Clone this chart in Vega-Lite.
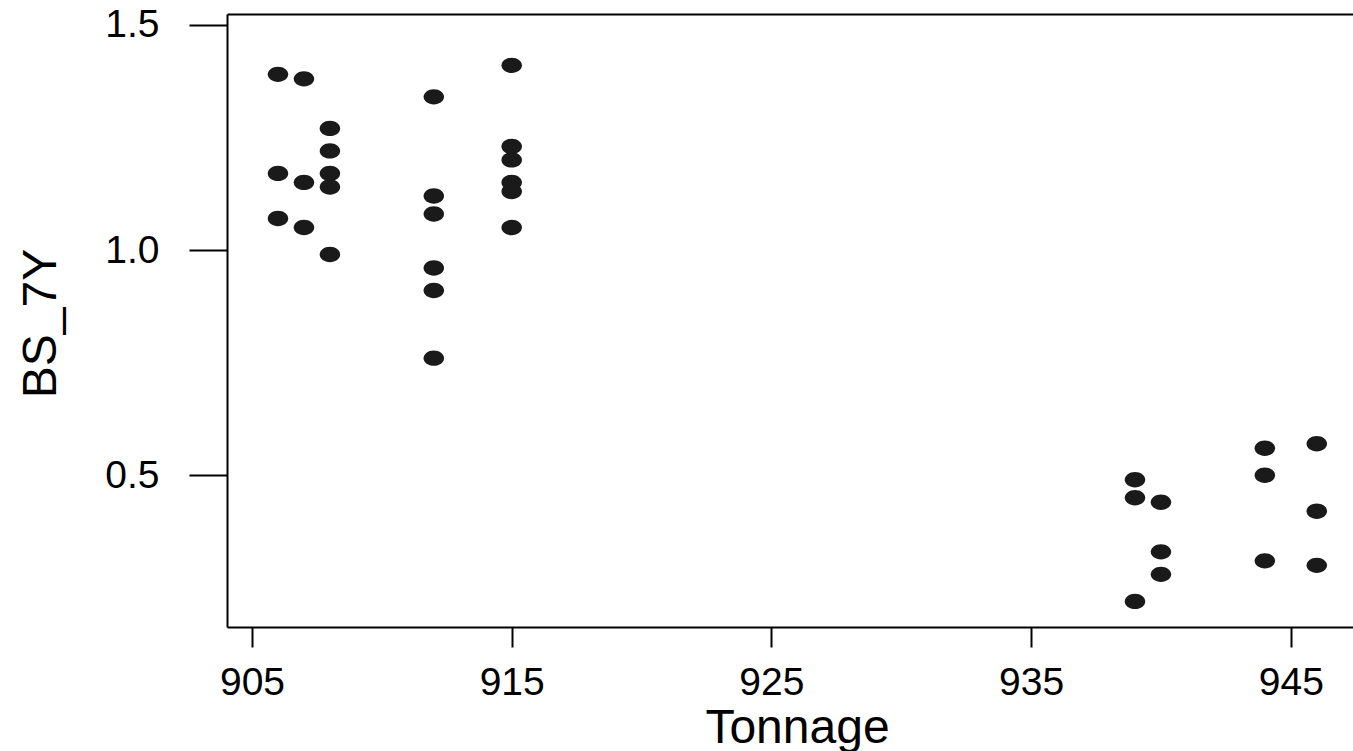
{
  "$schema": "https://vega.github.io/schema/vega-lite/v6.json",
  "width": 1126,
  "height": 613,
  "autosize": {"type": "none"},
  "padding": {"left": 227, "top": 14, "right": 0, "bottom": 124},
  "background": "white",
  "config": {
    "view": {"stroke": null},
    "axis": {
      "grid": false,
      "domainColor": "black",
      "domainWidth": 2,
      "tickColor": "black",
      "tickWidth": 2,
      "labelColor": "black",
      "labelFont": "Liberation Sans",
      "labelFontSize": 39,
      "titleFont": "Liberation Sans",
      "titleFontSize": 48,
      "titleFontWeight": "normal",
      "titleColor": "black",
      "labelFlush": false,
      "labelOverlap": false
    }
  },
  "data": {
    "values": [
      {"Tonnage": 906, "BS_7Y": 1.39},
      {"Tonnage": 906, "BS_7Y": 1.17},
      {"Tonnage": 906, "BS_7Y": 1.07},
      {"Tonnage": 907, "BS_7Y": 1.38},
      {"Tonnage": 907, "BS_7Y": 1.15},
      {"Tonnage": 907, "BS_7Y": 1.05},
      {"Tonnage": 908, "BS_7Y": 1.27},
      {"Tonnage": 908, "BS_7Y": 1.22},
      {"Tonnage": 908, "BS_7Y": 1.17},
      {"Tonnage": 908, "BS_7Y": 1.14},
      {"Tonnage": 908, "BS_7Y": 0.99},
      {"Tonnage": 912, "BS_7Y": 1.34},
      {"Tonnage": 912, "BS_7Y": 1.12},
      {"Tonnage": 912, "BS_7Y": 1.08},
      {"Tonnage": 912, "BS_7Y": 0.96},
      {"Tonnage": 912, "BS_7Y": 0.91},
      {"Tonnage": 912, "BS_7Y": 0.76},
      {"Tonnage": 915, "BS_7Y": 1.41},
      {"Tonnage": 915, "BS_7Y": 1.23},
      {"Tonnage": 915, "BS_7Y": 1.20},
      {"Tonnage": 915, "BS_7Y": 1.15},
      {"Tonnage": 915, "BS_7Y": 1.13},
      {"Tonnage": 915, "BS_7Y": 1.05},
      {"Tonnage": 939, "BS_7Y": 0.49},
      {"Tonnage": 939, "BS_7Y": 0.45},
      {"Tonnage": 939, "BS_7Y": 0.22},
      {"Tonnage": 940, "BS_7Y": 0.44},
      {"Tonnage": 940, "BS_7Y": 0.33},
      {"Tonnage": 940, "BS_7Y": 0.28},
      {"Tonnage": 944, "BS_7Y": 0.56},
      {"Tonnage": 944, "BS_7Y": 0.50},
      {"Tonnage": 944, "BS_7Y": 0.31},
      {"Tonnage": 946, "BS_7Y": 0.57},
      {"Tonnage": 946, "BS_7Y": 0.42},
      {"Tonnage": 946, "BS_7Y": 0.30}
    ]
  },
  "layer": [
    {
      "mark": {
        "type": "point",
        "shape": "M-1,0A1,0.75 0 1,0 1,0A1,0.75 0 1,0 -1,0Z",
        "filled": true,
        "size": 420,
        "color": "#1a1a1a",
        "opacity": 1,
        "strokeWidth": 0
      },
      "encoding": {
        "x": {
          "field": "Tonnage",
          "type": "quantitative",
          "scale": {"domain": [904.037, 947.395], "nice": false, "zero": false},
          "axis": {
            "orient": "bottom",
            "values": [905, 915, 925, 935, 945],
            "format": "d",
            "tickSize": 20,
            "labelPadding": 16,
            "title": "Tonnage",
            "titleX": 570,
            "titleY": 115,
            "titleAlign": "center",
            "titleBaseline": "alphabetic"
          }
        },
        "y": {
          "field": "BS_7Y",
          "type": "quantitative",
          "scale": {"domain": [0.16315, 1.5239], "nice": false, "zero": false},
          "axis": {
            "values": [0.5, 1.0, 1.5],
            "format": ".1f",
            "tickSize": 38,
            "labelPadding": 30,
            "title": "BS_7Y",
            "titleAngle": 270,
            "titleX": -172,
            "titleY": 309,
            "titleAlign": "center",
            "titleBaseline": "alphabetic"
          }
        }
      }
    },
    {
      "mark": {"type": "point", "opacity": 0},
      "encoding": {
        "x": {
          "field": "Tonnage",
          "type": "quantitative",
          "axis": {"orient": "top", "ticks": false, "labels": false, "title": null, "domain": true}
        }
      }
    }
  ],
  "resolve": {"axis": {"x": "independent"}}
}
